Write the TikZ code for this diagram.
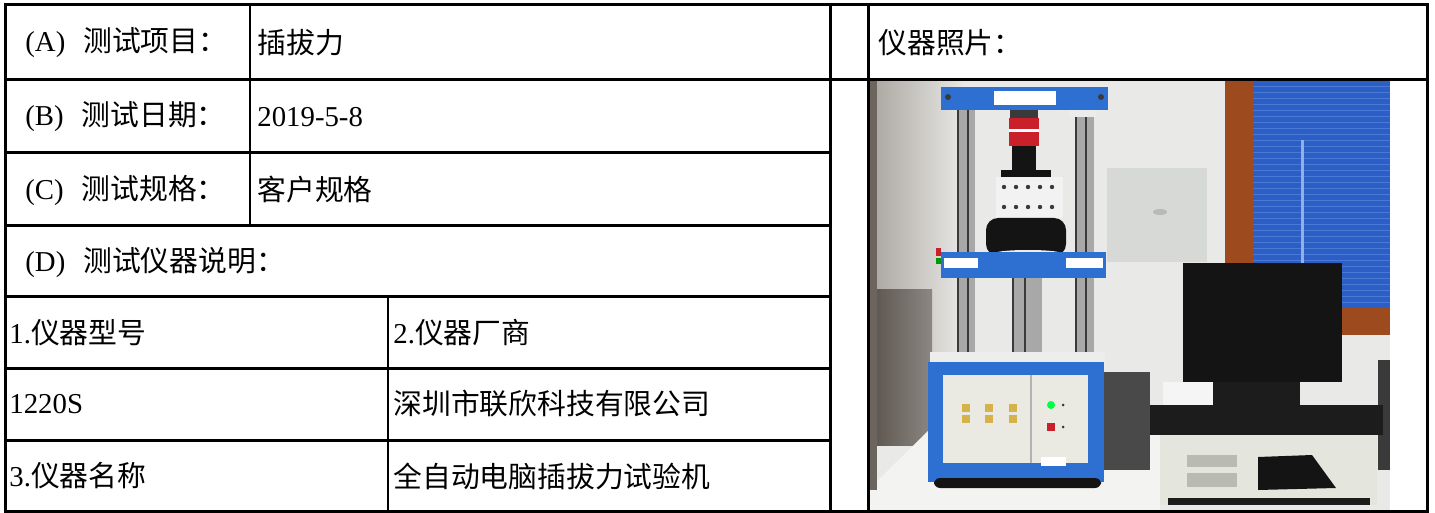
\documentclass[tikz,border=0pt]{standalone}
\usepackage{fontspec}
\setmainfont{Liberation Serif}
\newfontfamily\cjk{Noto Sans CJK SC}
\newfontfamily\latf{Liberation Serif}
\definecolor{wall}{HTML}{E9E9E7}
\definecolor{wallL}{HTML}{A9A49E}
\definecolor{leftdark}{HTML}{6B655E}
\definecolor{ddark}{HTML}{5A534C}
\definecolor{ddarkb}{HTML}{8C8782}
\definecolor{tablew}{HTML}{F3F3F1}
\definecolor{brownf}{HTML}{9C4A1E}
\definecolor{blind}{HTML}{2B5FC6}
\definecolor{blindline}{HTML}{4A7AD6}
\definecolor{paper}{HTML}{D6D9D6}
\definecolor{mon}{HTML}{141414}
\definecolor{deskdark}{HTML}{1C1C1C}
\definecolor{casec}{HTML}{E4E5DC}
\definecolor{slot}{HTML}{B9BAB2}
\definecolor{mblue}{HTML}{2E6FD2}
\definecolor{panel}{HTML}{EBEAE2}
\definecolor{rod}{HTML}{A8A8A8}
\definecolor{roddark}{HTML}{3A3A3A}
\definecolor{knob}{HTML}{D6B24A}
\definecolor{redc}{HTML}{C9202A}
\tikzset{
  tline/.style={line width=1.5pt, black},
  tthin/.style={line width=1pt, black},
  lbl/.style={anchor=west, inner sep=0pt, font=\fontsize{14.4}{17}\selectfont\cjk},
}
\begin{document}
\begin{tikzpicture}[x=0.5pt,y=-0.5pt]
\useasboundingbox (0,0) rectangle (1435,513);
\fill[white] (0,0) rectangle (1435,513);
% ---------- photo ----------
\begin{scope}
\clip (869,80) rectangle (1390,510);
\fill[wall] (869,80) rectangle (1390,510);
\shade[left color=wallL, right color=wall] (869,80) rectangle (965,360);
\shade[left color=ddark, right color=ddarkb] (869,290) rectangle (932,445);
\fill[tablew] (869,489) -- (929,430) -- (1160,430) -- (1160,510) -- (869,510) -- cycle;
\fill[leftdark] (869,80) rectangle (877,490);
% window
\fill[brownf] (1225,80) rectangle (1253,335);
\fill[brownf] (1253,308) rectangle (1390,335);
\fill[blind] (1253,80) rectangle (1390,308);
\foreach \yy in {86,92,...,304} \draw[blindline, line width=0.4pt] (1253,\yy) -- (1390,\yy);
\draw[blindline!60!white, line width=1.5pt] (1302,140) -- (1302,270);
% paper
\fill[paper] (1107,168) rectangle (1207,262);
\fill[gray!55] (1160,212) ellipse (7 and 3);
% cables
\fill[deskdark!80] (1100,372) rectangle (1150,470);
% monitor
\fill[white!92!gray] (1163,382) rectangle (1213,405);
\fill[mon] (1183,263) rectangle (1342,382);
\fill[deskdark] (1213,382) rectangle (1300,405);
\fill[roddark] (1378,360) rectangle (1390,470);
\fill[deskdark] (1150,405) rectangle (1383,435);
% pc case
\fill[casec] (1160,435) rectangle (1377,505);
\fill[slot] (1187,455) rectangle (1237,467);
\fill[slot] (1187,473) rectangle (1237,487);
\fill[mon] (1258,457) -- (1312,455) -- (1336,488) -- (1258,490) -- cycle;
\fill[deskdark] (1168,498) rectangle (1370,505);
% machine rods
\fill[rod] (957,110) rectangle (975,356);
\draw[roddark, line width=1pt] (958,110) -- (958,356) (968,110) -- (968,356);
\fill[rod] (1075,110) rectangle (1094,356);
\draw[roddark, line width=1pt] (1076,110) -- (1076,356) (1086,110) -- (1086,356);
\fill[rod] (1013,278) rectangle (1042,356);
\draw[roddark, line width=1pt] (1013,278) -- (1013,356) (1025,278) -- (1025,356);
% top crossbar
\fill[mblue] (941,87) rectangle (1108,110);
\fill[white] (994,91) rectangle (1056,105);
\fill[roddark] (948,97) circle (3);
\fill[roddark] (1101,97) circle (3);
\fill[white!85!gray] (1069,110) rectangle (1096,117);
% head
\fill[roddark] (1010,110) rectangle (1038,118);
\fill[redc] (1009,118) rectangle (1039,146);
\fill[white] (1009,129) rectangle (1039,132);
\fill[mon] (1012,146) rectangle (1036,172);
\fill[mon] (1001,170) rectangle (1051,177);
% white fixture
\fill[white!90!gray] (996,177) rectangle (1063,218);
\foreach \xx in {1004,1016,1028,1040,1052} {
  \fill[roddark] (\xx,187) circle (2.2);
  \fill[roddark] (\xx,207) circle (2.2);
}
% black fixture
\fill[mon, rounded corners=6pt] (986,218) rectangle (1066,256);
\fill[white!85!gray] (1028,253) ellipse (32 and 3);
% lower crossbar
\fill[mblue] (941,252) rectangle (1106,278);
\fill[white] (944,258) rectangle (978,268);
\fill[white] (1066,258) rectangle (1103,268);
\fill[redc] (936,248) rectangle (941,256);
\fill[green!60!black] (936,258) rectangle (941,264);
% base
\fill[white!86!gray] (930,352) rectangle (1105,363);
\fill[mblue] (928,362) rectangle (1104,482);
\fill[panel] (943,375) rectangle (1088,463);
\draw[gray!60, line width=0.8pt] (1031,375) -- (1031,463);
\foreach \xx in {966,989,1013} {
  \fill[knob] (\xx-4,404) rectangle (\xx+4,412);
  \fill[knob] (\xx-4,415) rectangle (\xx+4,423);
}
\fill[green!75!cyan] (1051,405) circle (4);
\fill[redc] (1047,423) rectangle (1055,431);
\fill[roddark] (1063,405) circle (1.5);
\fill[roddark] (1063,427) circle (1.5);
\fill[white] (1041,457) rectangle (1066,466);
\fill[mon, rounded corners=3pt] (934,478) rectangle (1101,488);
\end{scope}
% ---------- table lines ----------
\draw[tline] (5,5) rectangle (1427,511);
\draw[tline] (5,80) -- (1427,80);
\foreach \yy in {153,226,297,368,440} \draw[tline] (5,\yy) -- (830,\yy);
\draw[tline] (830,5) -- (830,511);
\draw[tline] (868,5) -- (868,511);
\draw[tthin] (250,5) -- (250,226);
\draw[tthin] (388,297) -- (388,511);
% ---------- texts ----------
\node[lbl] (ta) at (25,43) {{\latf (A)}\hspace{9pt}测试项目：};
\node[lbl] (va) at (257,43) {插拔力};
\node[lbl] (tb) at (25,117) {{\latf (B)}\hspace{9pt}测试日期：};
\node[lbl] (vb) at (257,117) {\latf 2019-5-8};
\node[lbl] (tc) at (25,190) {{\latf (C)}\hspace{9pt}测试规格：};
\node[lbl] (vc) at (257,190) {客户规格};
\node[lbl] (td) at (25,262) {{\latf (D)}\hspace{9pt}测试仪器说明：};
\node[lbl] (t1) at (9,333) {{\latf 1.}仪器型号};
\node[lbl] (t2) at (393,333) {{\latf 2.}仪器厂商};
\node[lbl] (m1) at (9,404) {\latf 1220S};
\node[lbl] (m2) at (393,404) {深圳市联欣科技有限公司};
\node[lbl] (t3) at (9,476) {{\latf 3.}仪器名称};
\node[lbl] (m3) at (393,476) {全自动电脑插拔力试验机};
\node[lbl] (tp) at (878,43) {仪器照片：};
\end{tikzpicture}
\end{document}
